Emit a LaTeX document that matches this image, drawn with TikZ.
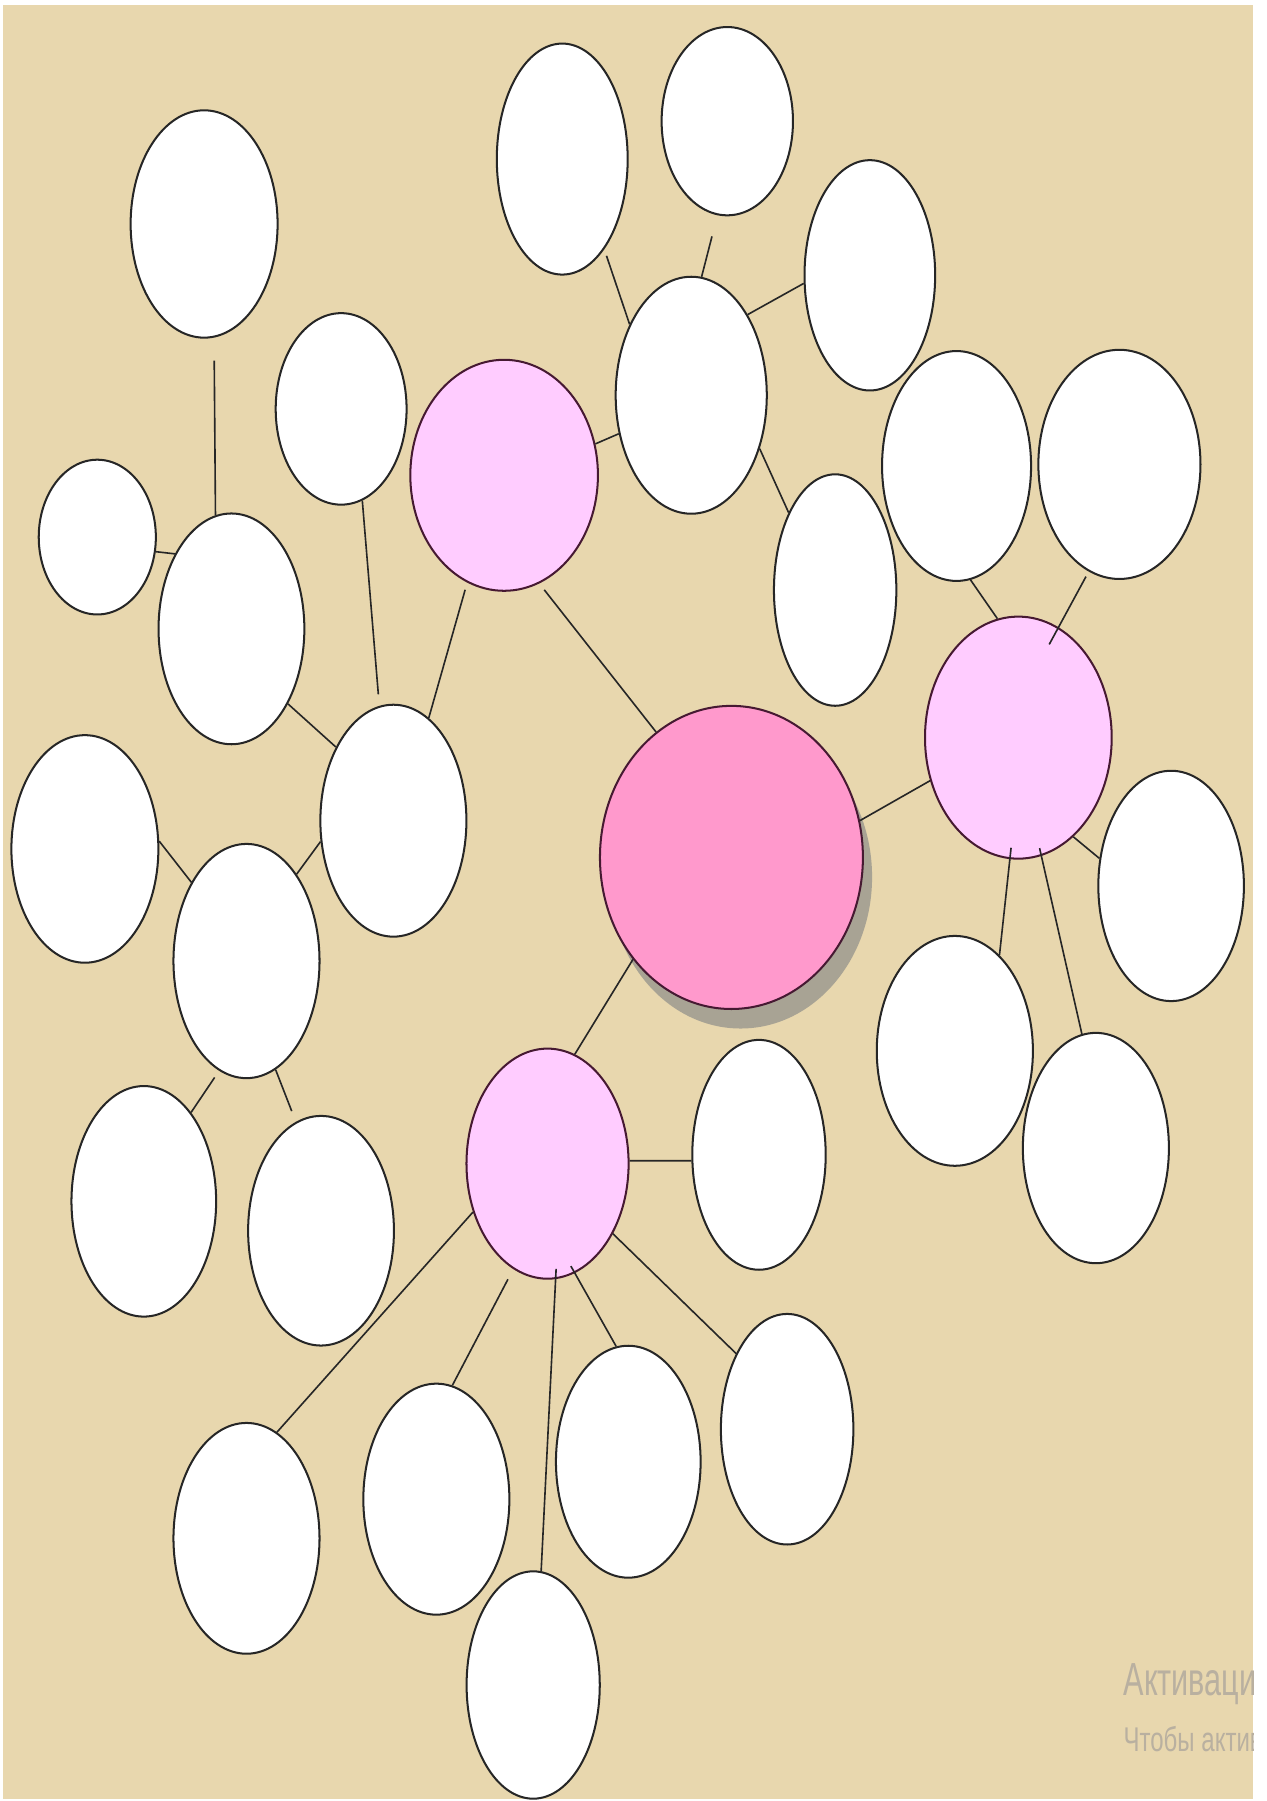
\documentclass[tikz,border=0pt]{standalone}
\usepackage{fontspec}
\usepackage{xcolor}
\usepackage{tikz}
\usetikzlibrary{shapes.geometric, shadows}
\definecolor{parchment}{RGB}{232, 215, 174}
\definecolor{corepink}{RGB}{255, 153, 204}
\definecolor{subpink}{RGB}{255, 204, 255}
\definecolor{rimdark}{RGB}{70, 25, 50}
\definecolor{shadowgrey}{RGB}{168, 163, 148}
\definecolor{markgrey}{RGB}{185, 176, 160}
\newfontfamily\markfont{Liberation Sans}
\tikzstyle{bubble} = [ellipse, draw=black!85, fill=white, inner sep=0pt, line width=1pt]
\tikzstyle{subbubble} = [bubble, draw=rimdark, fill=subpink]
\tikzstyle{corebubble} = [bubble, draw=rimdark, fill=corepink, drop shadow={shadow xshift=0.16cm, shadow yshift=-0.34cm, fill=shadowgrey, opacity=1}]
\tikzstyle{link} = [line width=0.8pt, draw=black!85]
\tikzset{radii/.style 2 args={minimum width=#1*0.04cm, minimum height=#2*0.04cm}}
\begin{document}
\begin{tikzpicture}[x=0.02cm, y=-0.02cm]
    \useasboundingbox (0, 0) rectangle (1103, 1568);
    % Paper
    \fill[white] (0, 0) rectangle (1103, 1568);
    \fill[parchment] (3, 4) rectangle (1091, 1566);

    % Centre
    \node[corebubble, radii={114.5}{132}] (core) at (636.8, 746.5) {};

    % Pink sub-topics
    \node[subbubble, radii={81.7}{100.6}] (subL) at (438.9, 413.8) {};
    \node[subbubble, radii={81.3}{105.4}] (subR) at (886.6, 642.2) {};
    \node[subbubble, radii={70.6}{100.2}] (subB) at (476.7, 1013.1) {};

    % Top group
    \node[bubble, radii={65.8}{103.2}] (thub) at (601.8, 344.1) {};
    \node[bubble, radii={57}{100.6}] (t1) at (489.5, 138.5) {};
    \node[bubble, radii={57.2}{82}] (t2) at (633.2, 105.5) {};
    \node[bubble, radii={56.9}{100.3}] (t3) at (757.3, 239.7) {};
    \node[bubble, radii={53.3}{100.8}] (t4) at (727.1, 513.7) {};

    % Right group
    \node[bubble, radii={64.9}{100.1}] (r1) at (832.8, 405.7) {};
    \node[bubble, radii={70.6}{99.8}] (r2) at (974.6, 404.3) {};
    \node[bubble, radii={63.4}{100.3}] (r3) at (1019.6, 771.3) {};
    \node[bubble, radii={68}{100.1}] (r4) at (831.3, 914.9) {};
    \node[bubble, radii={63.6}{100.3}] (r5) at (954.1, 999.5) {};

    % Bottom group
    \node[bubble, radii={58.1}{100.1}] (b1) at (660.8, 1005.4) {};
    \node[bubble, radii={57.7}{100.4}] (b2) at (685.3, 1244.3) {};
    \node[bubble, radii={63}{101}] (b3) at (547, 1272.6) {};
    \node[bubble, radii={63.6}{100.6}] (b4) at (379.9, 1305.2) {};
    \node[bubble, radii={58}{99}] (b5) at (464.2, 1467) {};
    \node[bubble, radii={63.6}{100.5}] (b6) at (214.6, 1339.3) {};

    % Left group
    \node[bubble, radii={63.6}{101}] (lhub) at (342.5, 714.5) {};
    \node[bubble, radii={57}{83.4}] (la) at (297, 356) {};
    \node[bubble, radii={63.5}{100.5}] (lb) at (201.5, 547.5) {};
    \node[bubble, radii={64}{99}] (lb1) at (177.7, 195) {};
    \node[bubble, radii={51}{67.4}] (lb2) at (84.7, 467.6) {};
    \node[bubble, radii={63.6}{102}] (lc) at (214.6, 836.7) {};
    \node[bubble, radii={64}{99.1}] (lc1) at (73.9, 739.1) {};
    \node[bubble, radii={63}{100.4}] (lc2) at (125.2, 1045.9) {};
    \node[bubble, radii={63.5}{100}] (lc3) at (279.5, 1071.5) {};

    % Links from the centre
    \draw[link, shorten >=0.14cm] (core.121) -- (subL.-72);
    \draw[link] (core.16) -- (subR.206);
    \draw[link] (core.226) -- (subB.76);

    % Top links
    \draw[link] (subL.19) -- (thub.208);
    \draw[link, shorten >=0.12cm] (thub.131) -- (t1.-65);
    \draw[link, shorten >=0.38cm] (thub.85) -- (t2.264);
    \draw[link] (thub.55) -- (t3.187);
    \draw[link] (thub.-38) -- (t4.121);

    % Right links
    \draw[link] (r1.-83) -- (subR.100);
    \draw[link, shorten <=0.1cm, shorten >=-0.34cm] (r2.254) -- (subR.70);
    \draw[link] (subR.-61) -- (r3.159);
    \draw[link, shorten <=-0.2cm] (subR.-94) -- (r4.65);
    \draw[link, shorten <=-0.14cm] (subR.-79) -- (r5.97);

    % Bottom links
    \draw[link] (subB.2) -- (b1.185);
    \draw[link] (subB.-47) -- (b2.124);
    \draw[link, shorten <=-0.14cm] (subB.-76) -- (b3.96);
    \draw[link, shorten <=0.2cm] (subB.252) -- (b4.82);
    \draw[link, shorten <=-0.18cm] (subB.-86) -- (b5.86);
    \draw[link] (subB.213) -- (b6.74);

    % Left links
    \draw[link, shorten <=0.13cm] (subL.251) -- (lhub.71);
    \draw[link, shorten >=0.2cm] (la.-77) -- (lhub.97);
    \draw[link] (lb.-53) -- (lhub.128);
    \draw[link, shorten <=0.4cm] (lb1.-85) -- (lb.98);
    \draw[link] (lb2.-14) -- (lb.127);
    \draw[link] (lc.60) -- (lhub.196);
    \draw[link] (lc1.6) -- (lc.125);
    \draw[link, shorten <=0.14cm] (lc.256) -- (lc2.62);
    \draw[link, shorten >=0.2cm] (lc.-75) -- (lc3.103);

    % Watermark
    \begin{scope}
        \clip (3, 4) rectangle (1091, 1566);
        \node[anchor=base west, inner sep=0pt, text=markgrey, xscale=0.66, font=\markfont\fontsize{23}{27}\selectfont] (mark1) at (978, 1476) {Активаци};
        \node[anchor=base west, inner sep=0pt, text=markgrey, xscale=0.7, font=\markfont\fontsize{17}{20}\selectfont] (mark2) at (978, 1524.5) {Чтобы актив};
    \end{scope}
\end{tikzpicture}
\end{document}
